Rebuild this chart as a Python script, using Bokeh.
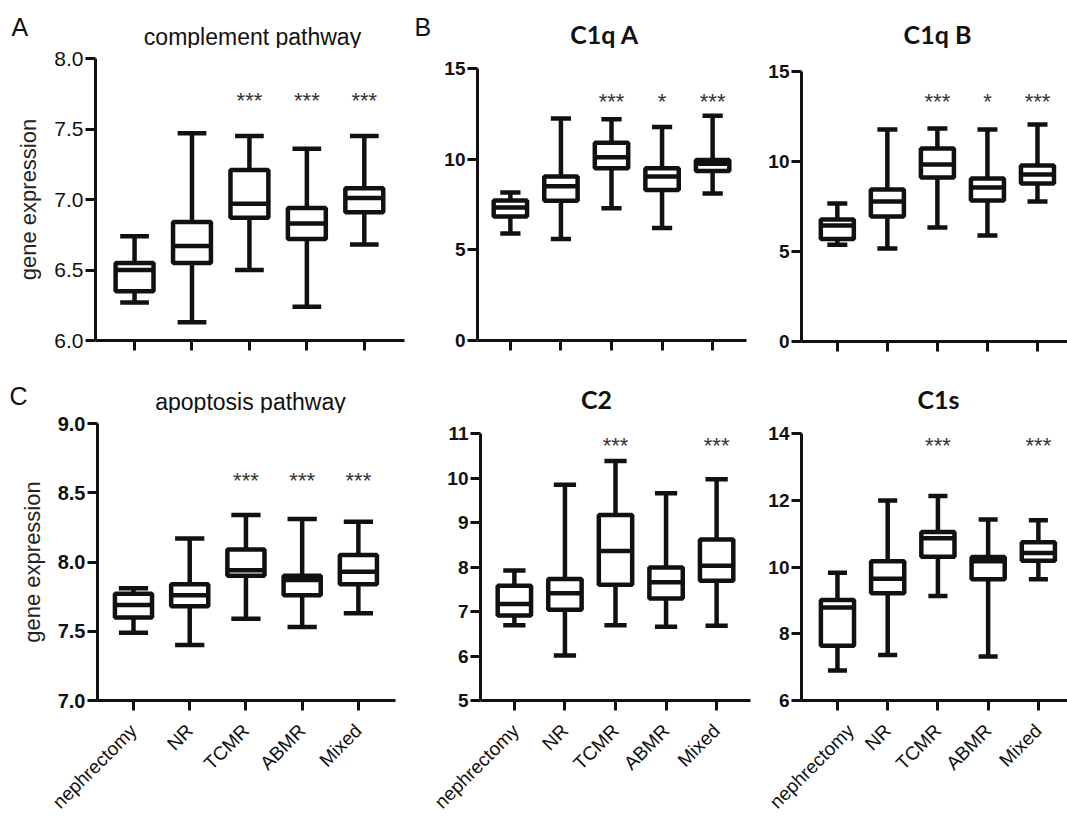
import math
from bokeh.plotting import figure
from bokeh.layouts import column, row
from bokeh.models import Range1d, FixedTicker, Label, NumeralTickFormatter, ColumnDataSource
from bokeh.transform import dodge
from bokeh.core.properties import value
from bokeh.embed import file_html
from bokeh.resources import INLINE

categories = ["nephrectomy", "NR", "TCMR", "ABMR", "Mixed"]

# A: complement pathway
complement_low = [6.27, 6.13, 6.50, 6.24, 6.68]
complement_q1 = [6.35, 6.55, 6.87, 6.72, 6.91]
complement_median = [6.50, 6.67, 6.97, 6.83, 7.01]
complement_q3 = [6.55, 6.84, 7.21, 6.94, 7.08]
complement_high = [6.74, 7.47, 7.45, 7.36, 7.45]
complement_sig = ["", "", "***", "***", "***"]

# B: C1q A
c1qa_low = [5.90, 5.60, 7.30, 6.20, 8.10]
c1qa_q1 = [6.84, 7.70, 9.50, 8.30, 9.35]
c1qa_median = [7.33, 8.50, 10.10, 9.05, 9.75]
c1qa_q3 = [7.72, 9.04, 10.90, 9.50, 9.95]
c1qa_high = [8.16, 12.24, 12.20, 11.77, 12.40]
c1qa_sig = ["", "", "***", "*", "***"]

# B: C1q B
c1qb_low = [5.38, 5.17, 6.33, 5.89, 7.78]
c1qb_q1 = [5.70, 6.94, 9.11, 7.83, 8.78]
c1qb_median = [6.44, 7.78, 9.83, 8.56, 9.28]
c1qb_q3 = [6.78, 8.44, 10.72, 9.06, 9.78]
c1qb_high = [7.67, 11.78, 11.83, 11.78, 12.06]
c1qb_sig = ["", "", "***", "*", "***"]

# C: apoptosis pathway
apoptosis_low = [7.49, 7.40, 7.59, 7.53, 7.63]
apoptosis_q1 = [7.60, 7.68, 7.90, 7.76, 7.84]
apoptosis_median = [7.69, 7.76, 7.94, 7.87, 7.93]
apoptosis_q3 = [7.77, 7.84, 8.09, 7.90, 8.05]
apoptosis_high = [7.81, 8.17, 8.34, 8.31, 8.29]
apoptosis_sig = ["", "", "***", "***", "***"]

# C2
c2_low = [6.69, 6.01, 6.69, 6.66, 6.68]
c2_q1 = [6.91, 7.04, 7.60, 7.29, 7.69]
c2_median = [7.17, 7.41, 8.36, 7.66, 8.03]
c2_q3 = [7.58, 7.73, 9.17, 7.99, 8.62]
c2_high = [7.92, 9.85, 10.38, 9.66, 9.97]
c2_sig = ["", "", "***", "", "***"]

# C1s
c1s_low = [6.90, 7.36, 9.13, 7.32, 9.63]
c1s_q1 = [7.64, 9.21, 10.31, 9.63, 10.19]
c1s_median = [8.79, 9.65, 10.86, 10.17, 10.42]
c1s_q3 = [9.01, 10.17, 11.05, 10.30, 10.74]
c1s_high = [9.83, 11.99, 12.13, 11.42, 11.40]
c1s_sig = ["", "", "***", "", "***"]

FONT = "Liberation Sans"
BOLD_TITLE_FONT = "Lato"
INK = "#111111"
TOTAL_W = 1067


def make_header(height, items):
    h = figure(width=TOTAL_W, height=height, x_range=Range1d(0, TOTAL_W), y_range=Range1d(height, 0),
               output_backend="svg", toolbar_location=None, title=None,
               x_axis_type=None, y_axis_type=None,
               min_border_left=0, min_border_right=0, min_border_top=0, min_border_bottom=0)
    h.xgrid.visible = False
    h.ygrid.visible = False
    h.outline_line_color = None
    h.background_fill_color = "white"
    h.border_fill_color = "white"
    for txt, x, y, size, bold, align, font in items:
        h.add_layout(Label(x=x, y=y, text=txt, text_font=font, text_font_size=f"{size}px",
                           text_font_style="bold" if bold else "normal", text_align=align,
                           text_baseline="alphabetic", text_color=INK))
    return h


def make_panel(width, height, borders, xr, yr, yticks, yfmt, tick_bold, tick_size,
               show_xlabels, ylabel, low, q1, med, q3, high, sig, star_y, cap):
    bl, br, bt, bb = borders
    p = figure(width=width, height=height, x_range=Range1d(*xr), y_range=Range1d(*yr),
               output_backend="svg", toolbar_location=None, title=None,
               min_border_left=bl, min_border_right=br, min_border_top=bt, min_border_bottom=bb)
    p.xgrid.visible = False
    p.ygrid.visible = False
    p.outline_line_color = None
    p.background_fill_color = "white"
    p.border_fill_color = "white"

    positions = list(range(1, len(categories) + 1))
    src = ColumnDataSource(dict(x=positions, low=low, q1=q1, med=med, q3=q3, high=high))
    lw = 4.5
    bw = 0.66
    p.segment(x0="x", y0="q3", x1="x", y1="high", source=src, line_color=INK, line_width=lw)
    p.segment(x0="x", y0="low", x1="x", y1="q1", source=src, line_color=INK, line_width=lw)
    p.segment(x0=dodge("x", -cap), y0="high", x1=dodge("x", cap), y1="high", source=src,
              line_color=INK, line_width=lw)
    p.segment(x0=dodge("x", -cap), y0="low", x1=dodge("x", cap), y1="low", source=src,
              line_color=INK, line_width=lw)
    p.vbar(x="x", width=bw, bottom="q1", top="q3", source=src, fill_color="white",
           line_color=INK, line_width=lw)
    p.segment(x0=dodge("x", -bw / 2), y0="med", x1=dodge("x", bw / 2), y1="med", source=src,
              line_color=INK, line_width=lw)

    sig_x = [pos for pos, s in zip(positions, sig) if s]
    sig_t = [s for s in sig if s]
    p.text(x=sig_x, y=[star_y] * len(sig_x), text=sig_t, text_font=value(FONT),
           text_font_size="22px", text_align="center", text_baseline="middle",
           y_offset=3, text_color="#333333")

    for ax in (p.xaxis[0], p.yaxis[0]):
        ax.axis_line_width = 3
        ax.axis_line_color = INK
        ax.major_tick_line_width = 3
        ax.major_tick_line_color = INK
        ax.major_tick_in = 0
        ax.major_tick_out = 10
        ax.minor_tick_line_color = None
        ax.major_label_standoff = 2

    xa = p.xaxis[0]
    xa.ticker = FixedTicker(ticks=positions)
    xa.major_label_overrides = {pos: c for pos, c in zip(positions, categories)}
    if show_xlabels:
        xa.major_label_orientation = math.pi / 4
        xa.major_label_text_font = FONT
        xa.major_label_text_font_size = "19px"
        xa.major_label_text_color = INK
        xa.major_label_standoff = 17
    else:
        xa.major_label_text_color = None

    ya = p.yaxis[0]
    ya.ticker = FixedTicker(ticks=yticks)
    ya.formatter = NumeralTickFormatter(format=yfmt)
    ya.major_label_text_font = FONT
    ya.major_label_text_font_size = f"{tick_size}px"
    ya.major_label_text_font_style = "bold" if tick_bold else "normal"
    ya.major_label_text_color = INK
    if ylabel:
        ya.axis_label = ylabel
        ya.axis_label_text_font = FONT
        ya.axis_label_text_font_size = "22px"
        ya.axis_label_text_font_style = "normal"
        ya.axis_label_text_color = "#222222"
        ya.axis_label_standoff = 10
    return p


header1 = make_header(48, [
    ("A", 11, 26, 25, False, "left", FONT),
    ("complement pathway", 252, 36, 23, False, "center", FONT),
    ("B", 414, 26, 25, False, "left", FONT),
    ("C1q A", 604, 33, 25, True, "center", BOLD_TITLE_FONT),
    ("C1q B", 937, 33, 25, True, "center", BOLD_TITLE_FONT),
])

pA = make_panel(430, 332, (95, 26, 10, 40), (0.32, 5.70), (6.0, 8.0), [6.0, 6.5, 7.0, 7.5, 8.0],
                "0.0", False, 21, False, "gene expression",
                complement_low, complement_q1, complement_median, complement_q3, complement_high,
                complement_sig, 7.72, 0.25)

pB1 = make_panel(335, 332, (47, 19, 20, 40), (0.35, 5.67), (0, 15), [0, 5, 10, 15],
                 "0", True, 19, False, None,
                 c1qa_low, c1qa_q1, c1qa_median, c1qa_q3, c1qa_high, c1qa_sig, 13.35, 0.2)

pB2 = make_panel(302, 332, (35, 0, 23, 39), (0.284, 5.60), (0, 15), [0, 5, 10, 15],
                 "0", True, 19, False, None,
                 c1qb_low, c1qb_q1, c1qb_median, c1qb_q3, c1qb_high, c1qb_sig, 13.5, 0.2)

header2 = make_header(33, [
    ("C", 9, 15, 25, False, "left", FONT),
    ("apoptosis pathway", 250, 21, 23, False, "center", FONT),
    ("C2", 596, 18, 25, True, "center", BOLD_TITLE_FONT),
    ("C1s", 938, 18, 25, True, "center", BOLD_TITLE_FONT),
])

pC = make_panel(430, 410, (97, 35, 10, 120), (0.36, 5.66), (7.0, 9.0), [7.0, 7.5, 8.0, 8.5, 9.0],
                "0.0", True, 20, True, "gene expression",
                apoptosis_low, apoptosis_q1, apoptosis_median, apoptosis_q3, apoptosis_high,
                apoptosis_sig, 8.61, 0.26)

pC2 = make_panel(335, 410, (50, 15, 20, 119), (0.33, 5.67), (5, 11), [5, 6, 7, 8, 9, 10, 11],
                 "0", True, 19, True, None,
                 c2_low, c2_q1, c2_median, c2_q3, c2_high, c2_sig, 10.8, 0.22)

pC1s = make_panel(302, 410, (36, 0, 20, 119), (0.284, 5.58), (6, 14), [6, 8, 10, 12, 14],
                  "0", True, 19, True, None,
                  c1s_low, c1s_q1, c1s_median, c1s_q3, c1s_high, c1s_sig, 13.73, 0.19)

top_row = row(column(pA), column(pB1), column(pB2), spacing=0)
bottom_row = row(column(pC), column(pC2), column(pC1s), spacing=0)
layout = column(header1, top_row, header2, bottom_row, spacing=0)

open("out.html", "w").write(file_html(layout, INLINE))
